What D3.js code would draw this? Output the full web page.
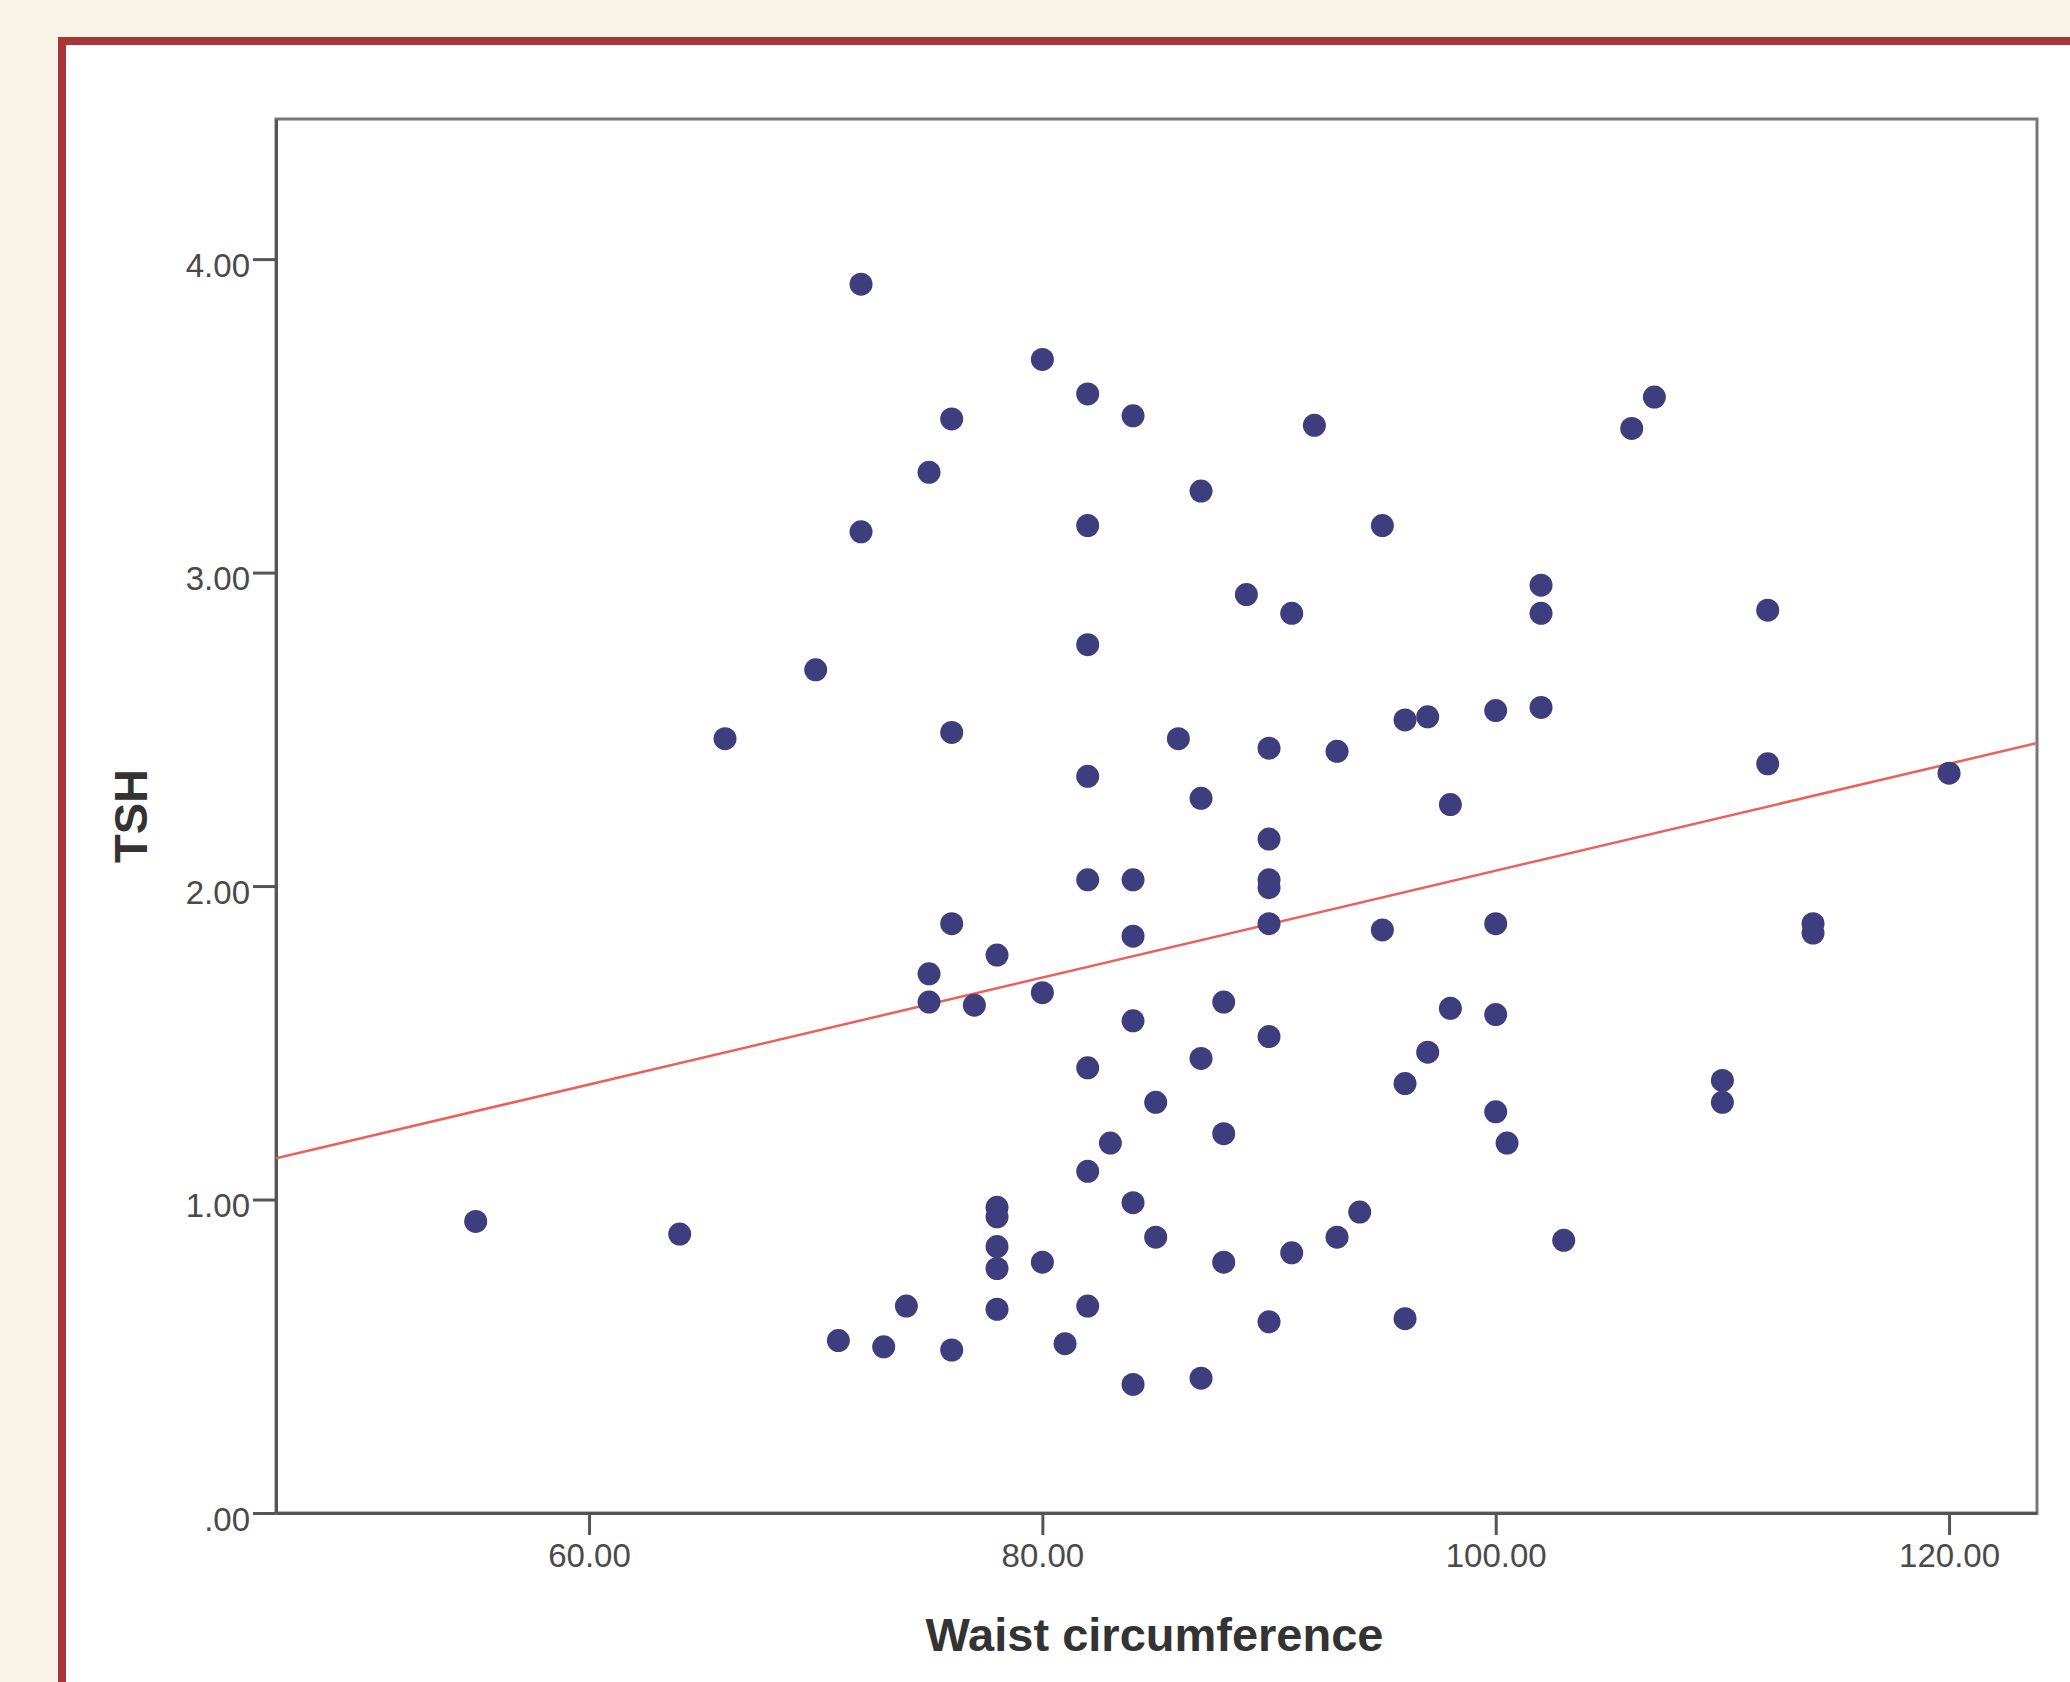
<!DOCTYPE html>
<html><head><meta charset="utf-8">
<script src="https://cdn.jsdelivr.net/npm/d3@7"></script>
<style>html,body{margin:0;padding:0;background:#f7f3e7;} svg{display:block;}</style>
</head><body>
<svg id="chart" width="2070" height="1682"></svg>
<script>
// ---- data ----
const waist = [72,80,82,76,84,92,75,87,106,107,72,82,95,89,91,102,102,112,82,70,66,76,86,90,93,96,97,100,102,112,120,82,87,98,90,82,84,90,90,90,76,84,95,100,114,114,78,75,75,77,80,88,84,98,100,90,87,97,82,96,85,110,110,100,88,83,100.5,82,55,64,78,78,84,94,85,93,103,78,91,78,80,88,74,78,82,90,96,71,73,76,81,84,87];
const tsh = [3.92,3.68,3.57,3.49,3.50,3.47,3.32,3.26,3.46,3.56,3.13,3.15,3.15,2.93,2.87,2.96,2.87,2.88,2.77,2.69,2.47,2.49,2.47,2.44,2.43,2.53,2.54,2.56,2.57,2.39,2.36,2.35,2.28,2.26,2.15,2.02,2.02,2.02,1.995,1.88,1.88,1.84,1.86,1.88,1.88,1.85,1.78,1.72,1.63,1.62,1.66,1.63,1.57,1.61,1.59,1.52,1.45,1.47,1.42,1.37,1.31,1.38,1.31,1.28,1.21,1.18,1.18,1.09,0.93,0.89,0.975,0.945,0.99,0.96,0.88,0.88,0.87,0.85,0.83,0.78,0.80,0.80,0.66,0.65,0.66,0.61,0.62,0.55,0.53,0.52,0.54,0.41,0.43];
const xTicks = [60, 80, 100, 120];
const xTickLabels = ["60.00", "80.00", "100.00", "120.00"];
const yTicks = [0, 1, 2, 3, 4];
const yTickLabels = [".00", "1.00", "2.00", "3.00", "4.00"];
const xDomain = [46.19, 123.88];
const yDomain = [0, 4.447];
const fitIntercept = 0.344;
const fitSlope = 0.01705;
const xTitle = "Waist circumference";
const yTitle = "TSH";

// ---- layout ----
const L = 276, T = 119, R = 2037, B = 1513;
const font = "'Liberation Sans', Arial, sans-serif";
const svg = d3.select("#chart");

svg.append("rect").attr("x", 62).attr("y", 41).attr("width", 2200).attr("height", 1800)
  .attr("fill", "#ffffff").attr("stroke", "#a8353a").attr("stroke-width", 8);

const x = d3.scaleLinear().domain(xDomain).range([L, R]);
const y = d3.scaleLinear().domain(yDomain).range([B, T]);

svg.append("defs").append("clipPath").attr("id", "plotclip")
  .append("rect").attr("x", L).attr("y", T).attr("width", R - L).attr("height", B - T);

// frame
svg.append("rect").attr("x", L).attr("y", T).attr("width", R - L).attr("height", B - T)
  .attr("fill", "none").attr("stroke", "#777").attr("stroke-width", 3);

// axes
const xAxis = d3.axisBottom(x).tickValues(xTicks).tickSize(22).tickSizeOuter(0).tickPadding(9)
  .tickFormat((d, i) => xTickLabels[i]);
const gx = svg.append("g").attr("transform", `translate(0,${B})`).call(xAxis);
const yAxis = d3.axisLeft(y).tickValues(yTicks).tickSize(23).tickSizeOuter(0).tickPadding(3)
  .tickFormat((d, i) => yTickLabels[i]);
const gy = svg.append("g").attr("transform", `translate(${L},0)`).call(yAxis);
[gx, gy].forEach(g => {
  g.select(".domain").attr("stroke", "#555").attr("stroke-width", 3);
  g.selectAll(".tick line").attr("stroke", "#555").attr("stroke-width", 3);
  g.selectAll(".tick text").attr("fill", "#4a4a4a").style("font-family", font).style("font-size", "33px");
});
gy.selectAll(".tick text").attr("dy", "0.52em");

// regression line
svg.append("line").attr("clip-path", "url(#plotclip)")
  .attr("x1", x(xDomain[0])).attr("y1", y(fitIntercept + fitSlope * xDomain[0]))
  .attr("x2", x(xDomain[1])).attr("y2", y(fitIntercept + fitSlope * xDomain[1]))
  .attr("stroke", "#ec5f5a").attr("stroke-width", 2.5);

// points
const pts = waist.map((w, i) => ({ w, t: tsh[i] }));
svg.append("g").selectAll("circle").data(pts).join("circle")
  .attr("cx", d => x(d.w)).attr("cy", d => y(d.t)).attr("r", 11.5)
  .attr("fill", "#3e3e7e");

// titles
svg.append("text").attr("x", (925 + 1384) / 2).attr("y", 1651)
  .attr("text-anchor", "middle").attr("fill", "#333")
  .style("font-family", font).style("font-weight", "bold").style("font-size", "47px")
  .text(xTitle);
svg.append("text").attr("transform", "translate(147,816) rotate(-90)")
  .attr("text-anchor", "middle").attr("fill", "#333")
  .style("font-family", font).style("font-weight", "bold").style("font-size", "47px")
  .text(yTitle);
</script>
</body></html>
